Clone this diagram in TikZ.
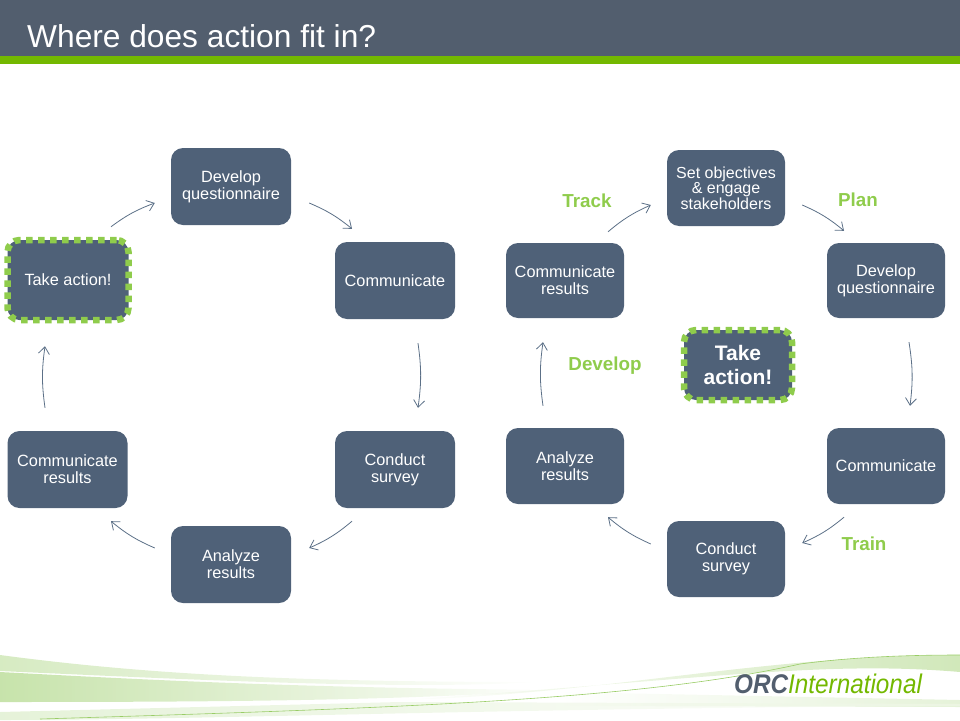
\documentclass[tikz,border=0pt]{standalone}
\usepackage{fontspec}
\setmainfont{Liberation Sans}
\usetikzlibrary{arrows.meta}
\begin{document}
\begin{tikzpicture}[x=1pt,y=-1pt,
box/.style={fill=bbfill,rounded corners=12pt,inner sep=0pt,minimum width=120pt,minimum height=77pt,text=white,align=center,font=\fontsize{16.3}{17}\selectfont},
act/.style={box,draw=ggdash,line width=6.5pt,dash pattern=on 6.5pt off 5.5pt},
flow/.style={color=aarrow,line width=0.8pt,-{Straight Barb[length=7pt,width=11pt]},bend left=8},
lab/.style={text=ggdash,font=\fontsize{18.8}{20}\selectfont\bfseries}]
\definecolor{bbfill}{rgb}{0.31,0.38,0.47}
\definecolor{ttbar}{rgb}{0.32,0.37,0.43}
\definecolor{ggbar}{rgb}{0.45,0.72,0}
\definecolor{ggdash}{rgb}{0.56,0.8,0.3}
\definecolor{aarrow}{rgb}{0.36,0.44,0.53}
\definecolor{sswoosh}{rgb}{0.6,0.8,0.4}
\useasboundingbox (0,0) rectangle (960,720);
\fill [color=ttbar] (0,0) rectangle (960,56);
\fill [color=ggbar] (0,56) rectangle (960,64);
\node [anchor=west,text=white,inner sep=0pt,font=\fontsize{31.7}{36}\selectfont] (title) at (27,36) {Where does action fit in?};
\shade [left color=sswoosh,right color=white,fill opacity=0.4] (0,655) .. controls (150,675) and (300,682) .. (540,682) .. controls (400,690) and (200,680) .. (0,671) -- cycle;
\shade [left color=sswoosh,right color=white,fill opacity=0.55] (0,672) .. controls (150,680) and (300,688) .. (560,690) .. controls (400,700) and (250,702) .. (0,702) -- cycle;
\shade [left color=white,right color=sswoosh,fill opacity=0.45] (400,700) .. controls (600,695) and (760,655) .. (960,655) -- (960,672) .. controls (820,660) and (700,680) .. (400,700) -- cycle;
\shade [left color=white,right color=sswoosh,fill opacity=0.25] (560,692) -- (960,700) -- (960,707) -- (560,706) -- cycle;
\shade [left color=sswoosh,right color=white,fill opacity=0.25] (0,712) -- (400,702) -- (960,704) -- (960,706) .. controls (500,708) and (200,720) .. (0,720) -- cycle;
\draw [color=sswoosh,line width=0.6pt] (40,719) .. controls (400,708) and (640,700) .. (800,664) .. controls (860,656) and (920,655) .. (960,655);
\node [inner sep=0pt,anchor=west,xscale=0.9,font=\fontsize{27}{30}\selectfont\itshape] (logo) at (734,684) {\textcolor{ttbar}{\bfseries ORC}\textcolor{ggbar}{International}};
\node [box] (devA) at (231,186.5) {Develop\\questionnaire};
\node [box] (commA) at (395,280.5) {Communicate};
\node [box] (condA) at (395,469.5) {Conduct\\survey};
\node [box,text depth=0.5pt] (anaA) at (231,564.5) {Analyze\\results};
\node [box] (resA) at (67.5,469.5) {Communicate\\results};
\node [act,minimum width=121pt,minimum height=80pt] (takeA) at (68,280) {Take action!};
\node [box,minimum width=118pt,minimum height=76pt,font=\fontsize{16}{15.5}\selectfont] (setB) at (726,188) {Set objectives\\\&{} engage\\stakeholders};
\node [box,minimum width=118pt,minimum height=75pt] (devB) at (886,280.5) {Develop\\questionnaire};
\node [box,minimum width=118pt,minimum height=76pt] (commB) at (886,466) {Communicate};
\node [box,minimum width=118pt,minimum height=76pt] (condB) at (726,559) {Conduct\\survey};
\node [box,minimum width=118pt,minimum height=76pt] (anaB) at (565,466) {Analyze\\results};
\node [box,minimum width=118pt,minimum height=75pt] (resB) at (565,280.5) {Communicate\\results};
\node [act,minimum width=108pt,minimum height=70pt,font=\fontsize{21}{24}\selectfont\bfseries] (takeB) at (738,365) {Take\\action!};
\node [lab] (track) at (587,201) {Track};
\node [lab] (plan) at (858,199.5) {Plan};
\node [lab] (develop) at (605,366) {Develop};
\node [lab] (train) at (864,543.5) {Train};
\draw [flow] ([shift={(43,-10)}]takeA.north) to ([shift={(-16,16.5)}]devA.west);
\draw [flow] ([shift={(18,16.5)}]devA.east) to ([shift={(-43,-13)}]commA.north);
\draw [flow] ([shift={(23,24)}]commA.south) to ([shift={(23,-23)}]condA.north);
\draw [flow] ([shift={(-43,13)}]condA.south) to ([shift={(18,-16.5)}]anaA.east);
\draw [flow] ([shift={(-16,-16.5)}]anaA.west) to ([shift={(43.5,13)}]resA.south);
\draw [flow] ([shift={(-22.5,-23)}]resA.north) to ([shift={(-23,23)}]takeA.south);
\draw [flow] ([shift={(43,-11)}]resB.north) to ([shift={(-16,17)}]setB.west);
\draw [flow] ([shift={(17,17)}]setB.east) to ([shift={(-42,-12)}]devB.north);
\draw [flow] ([shift={(23,24)}]devB.south) to ([shift={(24,-22)}]commB.north);
\draw [flow] ([shift={(-42,13)}]commB.south) to ([shift={(17,-16)}]condB.east);
\draw [flow] ([shift={(-16,-15)}]condB.west) to ([shift={(43,13)}]anaB.south);
\draw [flow] ([shift={(-22,-22)}]anaB.north) to ([shift={(-22,24)}]resB.south);
\end{tikzpicture}
\end{document}
